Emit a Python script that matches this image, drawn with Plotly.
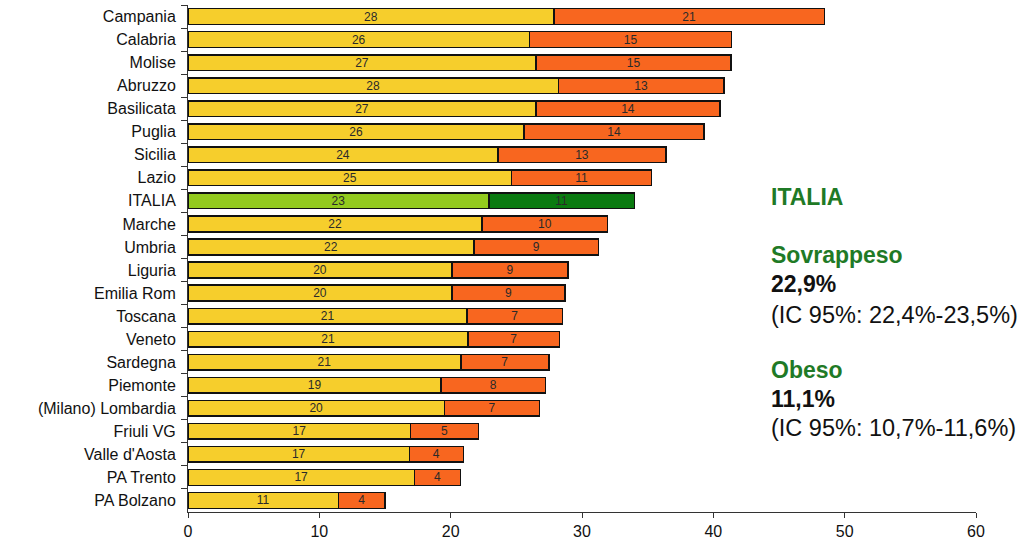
import plotly.graph_objects as go

regions = ["Campania", "Calabria", "Molise", "Abruzzo", "Basilicata", "Puglia", "Sicilia",
           "Lazio", "ITALIA", "Marche", "Umbria", "Liguria", "Emilia Rom", "Toscana",
           "Veneto", "Sardegna", "Piemonte", "(Milano) Lombardia", "Friuli VG",
           "Valle d'Aosta", "PA Trento", "PA Bolzano"]

sovrappeso = [27.85, 26.0, 26.5, 28.2, 26.5, 25.6, 23.6, 24.65, 22.9, 22.4, 21.76, 20.1, 20.1,
              21.25, 21.33, 20.77, 19.27, 19.53, 16.96, 16.86, 17.24, 11.45]
obeso = [20.6, 15.4, 14.85, 12.6, 14.0, 13.7, 12.8, 10.65, 11.1, 9.55, 9.5, 8.85, 8.6,
         7.25, 6.95, 6.7, 7.95, 7.25, 5.15, 4.1, 3.5, 3.55]

sovrappeso_labels = ["28", "26", "27", "28", "27", "26", "24", "25", "23", "22", "22", "20", "20",
                     "21", "21", "21", "19", "20", "17", "17", "17", "11"]
obeso_labels = ["21", "15", "15", "13", "14", "14", "13", "11", "11", "10", "9", "9", "9",
                "7", "7", "7", "8", "7", "5", "4", "4", "4"]

x_ticks = [0, 10, 20, 30, 40, 50, 60]

YELLOW = "#F6CE2C"
ORANGE = "#F8661F"
LGREEN = "#93CA1E"
DGREEN = "#0A7A10"

col_s = [LGREEN if r == "ITALIA" else YELLOW for r in regions]
col_o = [DGREEN if r == "ITALIA" else ORANGE for r in regions]

FONT = "Liberation Sans, Arial, sans-serif"

fig = go.Figure()
fig.add_trace(go.Bar(
    y=regions, x=sovrappeso, orientation="h", name="Sovrappeso",
    marker=dict(color=col_s, line=dict(color="#111111", width=1.5)),
    text=sovrappeso_labels, textposition="inside", insidetextanchor="middle",
    textangle=0, constraintext="none",
    textfont=dict(family=FONT, size=12, color="#2a2a2a"),
))
fig.add_trace(go.Bar(
    y=regions, x=obeso, orientation="h", name="Obeso",
    marker=dict(color=col_o, line=dict(color="#111111", width=1.5)),
    text=obeso_labels, textposition="inside", insidetextanchor="middle",
    textangle=0, constraintext="none",
    textfont=dict(family=FONT, size=12, color="#2a2a2a"),
))

fig.update_layout(
    barmode="stack", bargap=0.32,
    width=1024, height=545,
    margin=dict(l=188, r=48, t=5, b=33),
    paper_bgcolor="white", plot_bgcolor="white",
    showlegend=False,
    font=dict(family=FONT, color="#111111"),
)
fig.update_xaxes(
    range=[0, 60], tickvals=x_ticks, ticktext=[str(v) for v in x_ticks],
    showgrid=False, zeroline=False, showline=True, linecolor="#333333", linewidth=1,
    ticks="outside", ticklen=5, tickcolor="#333333",
    tickfont=dict(family=FONT, size=16, color="#111111"),
)
fig.update_yaxes(
    autorange="reversed", showgrid=False, zeroline=False,
    showline=True, linecolor="#333333", linewidth=1,
    ticks="outside", ticklen=6, tickcolor="#333333", tickson="boundaries",
    ticklabelstandoff=8,
    tickfont=dict(family=FONT, size=16, color="#111111"),
)

GREEN_TXT = "#1F7A26"
xp = (769 - 188) / 788.0


def yp(px):
    return (512 - px) / 507.0


notes = [
    ("<b>ITALIA</b>", 196.5, 23, GREEN_TXT),
    ("<b>Sovrappeso</b>", 255, 23, GREEN_TXT),
    ("<b>22,9%</b>", 284, 23, "#111111"),
    ("(IC 95%: 22,4%-23,5%)", 315, 23.5, "#111111"),
    ("<b>Obeso</b>", 370, 23, GREEN_TXT),
    ("<b>11,1%</b>", 399, 23, "#111111"),
    ("(IC 95%: 10,7%-11,6%)", 428.5, 23.5, "#111111"),
]
for txt, ypx, size, color in notes:
    fig.add_annotation(
        text=txt, xref="paper", yref="paper", x=xp, y=yp(ypx),
        xanchor="left", yanchor="middle", showarrow=False,
        font=dict(family=FONT, size=size, color=color),
    )

fig.write_html("out.html")
